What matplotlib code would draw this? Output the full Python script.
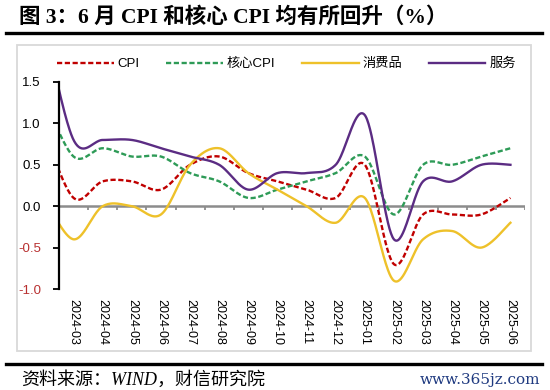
import numpy as np
import matplotlib.pyplot as plt
from matplotlib.patches import Rectangle
from matplotlib.lines import Line2D

plt.rcParams['font.family'] = ['Liberation Sans', 'Noto Sans CJK SC']

# === 数据（同比，%）；首个点 2024-02 被坐标轴截断，只显示一小段 ===
months = ['2024-02', '2024-03', '2024-04', '2024-05', '2024-06', '2024-07', '2024-08',
          '2024-09', '2024-10', '2024-11', '2024-12', '2025-01', '2025-02',
          '2025-03', '2025-04', '2025-05', '2025-06']
cpi = [0.9, 0.1, 0.3, 0.3, 0.2, 0.5, 0.6, 0.4, 0.3, 0.2, 0.1, 0.5, -0.7, -0.1, -0.1, -0.1, 0.1]
core = [1.3, 0.6, 0.7, 0.6, 0.6, 0.4, 0.3, 0.1, 0.2, 0.3, 0.4, 0.6, -0.1, 0.5, 0.5, 0.6, 0.7]
goods = [0.1, -0.4, 0.0, 0.0, -0.1, 0.5, 0.7, 0.4, 0.2, 0.0, -0.2, 0.1, -0.9, -0.4, -0.3, -0.5, -0.2]
services = [2.2, 0.8, 0.8, 0.8, 0.7, 0.6, 0.5, 0.2, 0.4, 0.4, 0.5, 1.1, -0.4, 0.3, 0.3, 0.5, 0.5]


def smooth(x, y, n=40):
    # courbe lissée façon Excel (Bézier, tension 1/6)
    px = np.r_[x[0], x, x[-1]].astype(float)
    py = np.r_[y[0], y, y[-1]].astype(float)
    t = np.linspace(0, 1, n)[:, None]
    out = []
    for i in range(1, len(px) - 2):
        p0 = np.array([px[i - 1], py[i - 1]])
        p1 = np.array([px[i], py[i]])
        p2 = np.array([px[i + 1], py[i + 1]])
        p3 = np.array([px[i + 2], py[i + 2]])
        c1 = p1 + (p2 - p0) / 6
        c2 = p2 - (p3 - p1) / 6
        b = (1 - t) ** 3 * p1 + 3 * (1 - t) ** 2 * t * c1 + 3 * (1 - t) * t ** 2 * c2 + t ** 3 * p2
        out.append(b if i == 1 else b[1:])
    out = np.vstack(out)
    return out[:, 0], out[:, 1]


x = np.arange(len(months)) - 1

fig = plt.figure(figsize=(5.5, 3.9), dpi=100)
ax = fig.add_axes([59 / 550, 1 - 289 / 390, (525 - 59) / 550, (289 - 82) / 390])

series = [
    ('CPI', cpi, '#C00000', (2.2, 1.1)),
    ('核心CPI', core, '#2E9B57', (2.2, 1.1)),
    ('消费品', goods, '#EEC12A', None),
    ('服务', services, '#5B2C83', None),
]
for name, vals, col, dash in series:
    sx, sy = smooth(x, vals)
    line, = ax.plot(sx, sy, color=col, lw=1.7, label=name)
    if dash:
        line.set_dashes(dash)

ax.set_xlim(-0.5, len(months) - 1.5)
ax.set_ylim(-1.0, 1.5)

# axe zéro gris avec graduations entre catégories
ax.axhline(0, color='#8C8C8C', lw=1.8, zorder=1)
bounds = np.arange(len(months) - 1) + 0.5
ax.vlines(np.r_[-0.5, bounds], -0.05, 0, color='#8C8C8C', lw=1.3, zorder=1)

ax.set_xticks(x[1:])
ax.set_xticklabels(months[1:], rotation=270, fontsize=9)
ax.tick_params(axis='x', length=0, pad=7)
ax.set_yticks([-1.0, -0.5, 0.0, 0.5, 1.0, 1.5])
ax.set_yticklabels(['-1.0', '-0.5', '0.0', '0.5', '1.0', '1.5'], fontsize=9.5)
for lab in ax.get_yticklabels()[:2]:
    lab.set_color('#B83030')
ax.tick_params(axis='y', length=4, width=1.3, direction='out', pad=9)

for s in ['top', 'right', 'bottom']:
    ax.spines[s].set_visible(False)
ax.spines['left'].set_linewidth(1.6)

ax.legend(loc='center', bbox_to_anchor=(0.488, 1 + (82 - 64) / 207), ncol=4, frameon=False,
          fontsize=9.5, handlelength=4.3, handletextpad=0.3, columnspacing=2.0)

# cadre, titre, source
fig.add_artist(Rectangle((17 / 550, 1 - 351 / 390), (531 - 17) / 550, (351 - 45) / 390,
                         transform=fig.transFigure, fill=False, ec='#D9D9D9', lw=1.3))
fig.add_artist(Line2D([6 / 550, 542 / 550], [1 - 33 / 390] * 2, color='black', lw=2.4))
fig.add_artist(Line2D([6 / 550, 542 / 550], [1 - 364 / 390] * 2, color='black', lw=2.4))
fig.text(19 / 550, 1 - 17 / 390, '图 3：6 月 CPI 和核心 CPI 均有所回升（%）', fontsize=15.5,
         fontweight='bold', va='center', family=['Liberation Serif', 'Noto Sans CJK SC'])
fig.text(21 / 550, 1 - 380 / 390, '资料来源：WIND，财信研究院', fontsize=13, style='italic',
         va='center', family=['Liberation Serif', 'Noto Sans CJK SC'])
fig.text(540 / 550, 1 - 380 / 390, 'www.365jz.com', ha='right', va='center', color='#1F3A80',
         fontsize=11, family='DejaVu Serif')

fig.savefig('out.png', dpi=100)
